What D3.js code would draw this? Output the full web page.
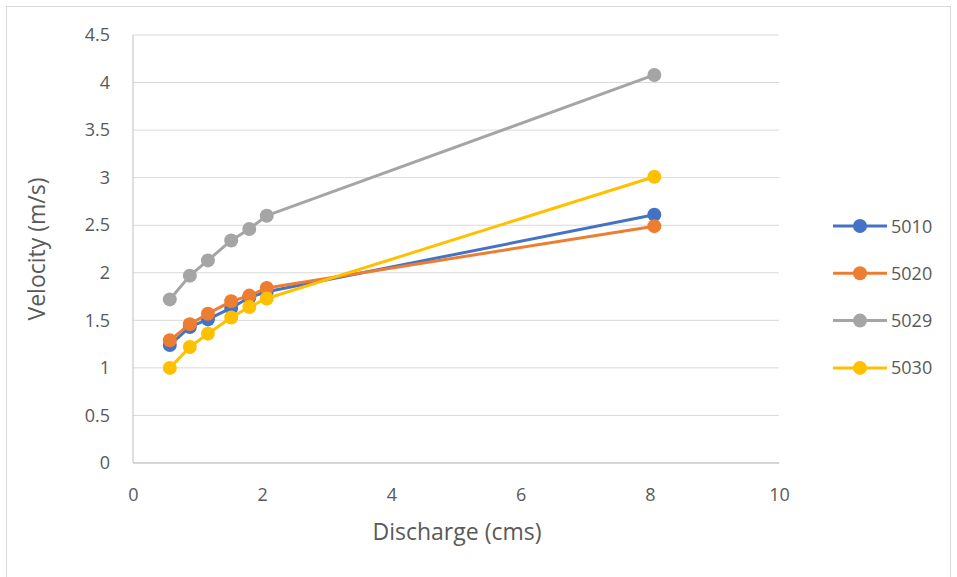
<!DOCTYPE html>
<html><head><meta charset="utf-8">
<script src="https://cdn.jsdelivr.net/npm/d3@7/dist/d3.min.js"></script>
<style>body{margin:0;background:#fff;}svg{display:block;font-family:"Open Sans","Liberation Sans",sans-serif;}</style>
</head><body>
<svg id="c" width="957" height="577"></svg>
<script>
const discharge = [0.57, 0.88, 1.16, 1.52, 1.80, 2.07, 8.07];
const seriesNames = ["5010", "5020", "5029", "5030"];
const v5010 = [1.24, 1.43, 1.51, 1.63, 1.74, 1.80, 2.61];
const v5020 = [1.29, 1.46, 1.57, 1.70, 1.76, 1.84, 2.49];
const v5029 = [1.72, 1.97, 2.13, 2.34, 2.46, 2.60, 4.08];
const v5030 = [1.00, 1.22, 1.36, 1.53, 1.64, 1.73, 3.01];
const colors = ["#4472c4", "#ed7d31", "#a5a5a5", "#ffc000"];
const xTicks = [0, 2, 4, 6, 8, 10];
const yTicks = [0, 0.5, 1, 1.5, 2, 2.5, 3, 3.5, 4, 4.5];

const svg = d3.select("#c");
svg.append("rect").attr("x", 6.5).attr("y", 6.5).attr("width", 944).attr("height", 590)
  .attr("fill", "none").attr("stroke", "#d9d9d9");

const x = d3.scaleLinear().domain([0, 10]).range([133, 779]);
const y = d3.scaleLinear().domain([0, 4.5]).range([463, 35]);

// gridlines
svg.append("g").selectAll("line").data(yTicks).join("line")
  .attr("x1", x(0)).attr("x2", x(10)).attr("y1", d => y(d)).attr("y2", d => y(d))
  .attr("stroke", "#d9d9d9").attr("stroke-width", 1);
svg.append("line").attr("x1", x(0)).attr("x2", x(0)).attr("y1", y(0)).attr("y2", y(4.5))
  .attr("stroke", "#bfbfbf").attr("stroke-width", 1);
svg.append("line").attr("x1", x(0)).attr("x2", x(10)).attr("y1", y(0)).attr("y2", y(0))
  .attr("stroke", "#bfbfbf").attr("stroke-width", 1);

const yAxis = d3.axisLeft(y).tickValues(yTicks).tickSize(0).tickPadding(0).tickFormat(d => String(d));
svg.append("g").attr("transform", `translate(${x(0) - 23},0)`).call(yAxis)
  .call(g => g.select(".domain").remove())
  .selectAll("text").attr("font-size", 18).attr("fill", "#595959").attr("font-family", "Open Sans, Liberation Sans, sans-serif");

const xAxis = d3.axisBottom(x).tickValues(xTicks).tickSize(0).tickPadding(0).tickFormat(d => String(d));
svg.append("g").attr("transform", `translate(0,${y(0) + 25})`).call(xAxis)
  .call(g => g.select(".domain").remove())
  .selectAll("text").attr("font-size", 18).attr("fill", "#595959").attr("font-family", "Open Sans, Liberation Sans, sans-serif");

svg.append("text").attr("x", 457).attr("y", 540).attr("text-anchor", "middle")
  .attr("font-size", 23).attr("fill", "#595959").text("Discharge (cms)");
svg.append("text").attr("transform", "translate(45,249) rotate(-90)").attr("text-anchor", "middle")
  .attr("font-size", 23).attr("fill", "#595959").text("Velocity (m/s)");

const data = [v5010, v5020, v5029, v5030];
const line = d3.line().x(d => x(d[0])).y(d => y(d[1]));
data.forEach((vals, i) => {
  const pts = discharge.map((q, j) => [q, vals[j]]);
  const g = svg.append("g");
  g.append("path").attr("d", line(pts)).attr("fill", "none")
    .attr("stroke", colors[i]).attr("stroke-width", 3).attr("stroke-linejoin", "round");
  g.selectAll("circle").data(pts).join("circle")
    .attr("cx", d => x(d[0])).attr("cy", d => y(d[1])).attr("r", 7).attr("fill", colors[i]);
});

const lg = svg.append("g");
seriesNames.forEach((n, i) => {
  const ly = 226 + i * 47.3;
  lg.append("line").attr("x1", 833).attr("x2", 887).attr("y1", ly).attr("y2", ly)
    .attr("stroke", colors[i]).attr("stroke-width", 3);
  lg.append("circle").attr("cx", 860).attr("cy", ly).attr("r", 7).attr("fill", colors[i]);
  lg.append("text").attr("x", 891).attr("y", ly + 6.5).attr("font-size", 18).attr("fill", "#595959").text(n);
});
</script>
</body></html>
